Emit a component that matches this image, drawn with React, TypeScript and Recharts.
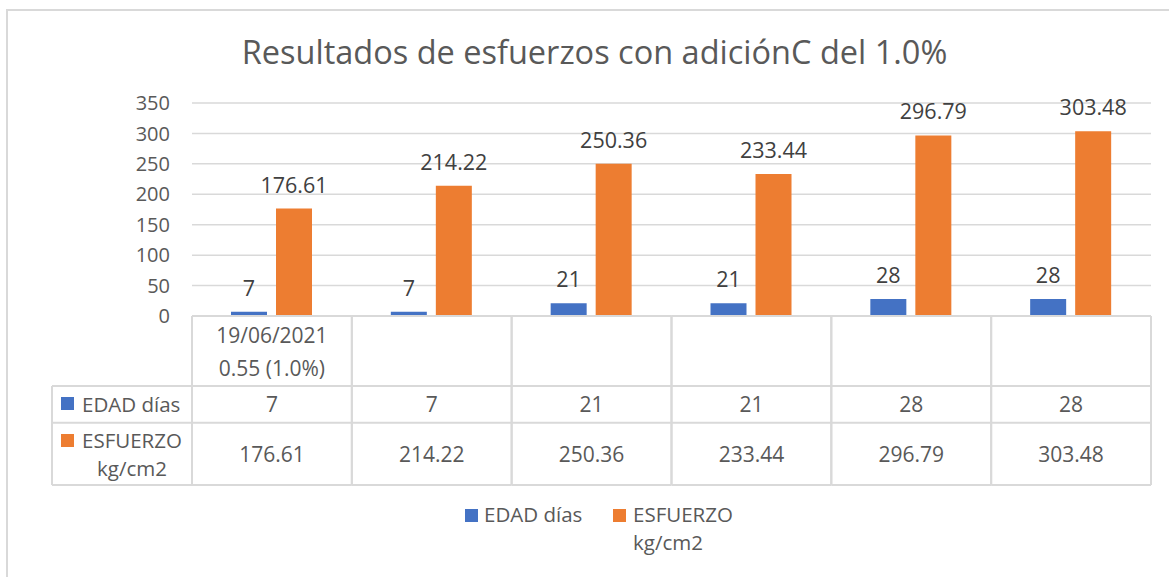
import React from "react";
import {
  BarChart,
  Bar,
  XAxis,
  YAxis,
  CartesianGrid,
  Legend,
  LabelList,
} from "recharts";

const categories = ["c1", "c2", "c3", "c4", "c5", "c6"];
const categoryLabels: string[][] = [
  ["19/06/2021", "0.55 (1.0%)"],
  [],
  [],
  [],
  [],
  [],
];
const edadDias = [7, 7, 21, 21, 28, 28];
const esfuerzo = [176.61, 214.22, 250.36, 233.44, 296.79, 303.48];
const yTicks = [0, 50, 100, 150, 200, 250, 300, 350];

const seriesNames = ["EDAD días", "ESFUERZO kg/cm2"];
const seriesLines = [["EDAD días"], ["ESFUERZO", "kg/cm2"]];

const BLUE = "#4472C4";
const ORANGE = "#ED7D31";
const GRID = "#D9D9D9";
const TEXT = "#595959";
const FONT = "'Open Sans', sans-serif";

const W = 1169;
const H = 577;
const PLOT_LEFT = 192;
const PLOT_RIGHT = 1151;
const PLOT_TOP = 103;
const BAND = (PLOT_RIGHT - PLOT_LEFT) / categories.length;

// table rows (relative to axis top)
const ROW1 = 70;
const ROW2 = 106.7;
const ROW3 = 169;
const HEAD_LEFT = 52;

const data = categories.map((c, i) => ({
  cat: c,
  edad: edadDias[i],
  esfuerzo: esfuerzo[i],
}));

const TableTick = (props: any) => {
  const { x, y, payload } = props;
  const i = payload.index;
  const half = BAND / 2;
  const lines = categoryLabels[i] || [];
  const line = (x1: number, y1: number, x2: number, y2: number, k: string) => (
    <line key={k} x1={x1} y1={y1} x2={x2} y2={y2} stroke={GRID} strokeWidth={2} />
  );
  return (
    <g fontFamily={FONT} fontSize={21} fill={TEXT}>
      {line(x - half, y, x + half, y, "t")}
      {line(x - half, y + ROW1, x + half, y + ROW1, "r1")}
      {line(x - half, y + ROW2, x + half, y + ROW2, "r2")}
      {line(x - half, y + ROW3, x + half, y + ROW3, "r3")}
      {line(x - half, y, x - half, y + ROW3, "l")}
      {line(x + half, y, x + half, y + ROW3, "r")}
      {lines.map((t, k) => (
        <text key={k} x={x} y={y + 19 + k * 33} textAnchor="middle" dominantBaseline="central">
          {t}
        </text>
      ))}
      <text x={x} y={y + (ROW1 + ROW2) / 2} textAnchor="middle" dominantBaseline="central">
        {edadDias[i]}
      </text>
      <text x={x} y={y + (ROW2 + ROW3) / 2} textAnchor="middle" dominantBaseline="central">
        {esfuerzo[i].toFixed(2)}
      </text>
      {i === 0 && (
        <g fontSize={20.5}>
          {line(HEAD_LEFT, y + ROW1, x - half, y + ROW1, "h1")}
          {line(HEAD_LEFT, y + ROW2, x - half, y + ROW2, "h2")}
          {line(HEAD_LEFT, y + ROW3, x - half, y + ROW3, "h3")}
          {line(HEAD_LEFT, y + ROW1, HEAD_LEFT, y + ROW3, "hl")}
          <rect x={61} y={y + 81} width={13} height={13} fill={BLUE} />
          <text x={82} y={y + (ROW1 + ROW2) / 2} dominantBaseline="central">
            {seriesLines[0][0]}
          </text>
          <rect x={61} y={y + 118} width={13} height={13} fill={ORANGE} />
          <text x={132} y={y + 124} textAnchor="middle" dominantBaseline="central">
            {seriesLines[1][0]}
          </text>
          <text x={132} y={y + 152} textAnchor="middle" dominantBaseline="central">
            {seriesLines[1][1]}
          </text>
        </g>
      )}
    </g>
  );
};

const LegendContent = () => (
  <div
    style={{
      height: 91,
      position: "relative",
      fontFamily: FONT,
      fontSize: 20.5,
      color: TEXT,
    }}
  >
    <div style={{ position: "absolute", left: 465, top: 23, width: 13, height: 13, background: BLUE }} />
    <div style={{ position: "absolute", left: 484, top: 14, lineHeight: "28px", whiteSpace: "nowrap" }}>
      {seriesLines[0][0]}
    </div>
    <div style={{ position: "absolute", left: 613, top: 23, width: 13, height: 13, background: ORANGE }} />
    <div style={{ position: "absolute", left: 633, top: 14, lineHeight: "28px", whiteSpace: "nowrap" }}>
      {seriesLines[1][0]}
      <br />
      {seriesLines[1][1]}
    </div>
  </div>
);

export default function App() {
  return (
    <div
      style={{
        position: "absolute",
        left: 0,
        top: 0,
        width: W,
        height: H,
        background: "#fff",
        overflow: "hidden",
      }}
    >
      <div
        style={{
          position: "absolute",
          left: 6,
          top: 9,
          width: W + 20,
          height: H + 20,
          border: `2px solid ${GRID}`,
        }}
      />
      <div
        style={{
          position: "absolute",
          left: 0,
          top: 30,
          width: W + 20,
          textAlign: "center",
          fontFamily: FONT,
          fontSize: 32.5,
          color: TEXT,
          lineHeight: "44px",
        }}
      >
        Resultados de esfuerzos con adiciónC del 1.0%
      </div>
      <div style={{ position: "absolute", left: 0, top: 0 }}>
        <BarChart
          width={W}
          height={H}
          data={data}
          margin={{ top: PLOT_TOP, right: W - PLOT_RIGHT, left: 0, bottom: 0 }}
          barSize={36}
          barGap={9}
        >
          <CartesianGrid vertical={false} stroke={GRID} strokeWidth={1.5} />
          <XAxis
            dataKey="cat"
            height={170}
            axisLine={false}
            tickLine={false}
            tickSize={0}
            tickMargin={0}
            interval={0}
            tick={<TableTick />}
          />
          <YAxis
            width={PLOT_LEFT}
            domain={[0, 350]}
            ticks={yTicks}
            axisLine={false}
            tickLine={false}
            tickMargin={16}
            tick={{ fill: TEXT, fontSize: 20, fontFamily: FONT }}
          />
          <Legend verticalAlign="bottom" height={91} content={<LegendContent />} />
          <Bar dataKey="edad" name={seriesNames[0]} fill={BLUE} isAnimationActive={false}>
            <LabelList dataKey="edad" position="top" offset={16} fill="#404040" fontSize={21.5} fontFamily={FONT} />
          </Bar>
          <Bar dataKey="esfuerzo" name={seriesNames[1]} fill={ORANGE} isAnimationActive={false}>
            <LabelList
              dataKey="esfuerzo"
              position="top"
              offset={16}
              fill="#404040"
              fontSize={21.5}
              fontFamily={FONT}
              formatter={(v: any) => Number(v).toFixed(2)}
            />
          </Bar>
        </BarChart>
      </div>
    </div>
  );
}
